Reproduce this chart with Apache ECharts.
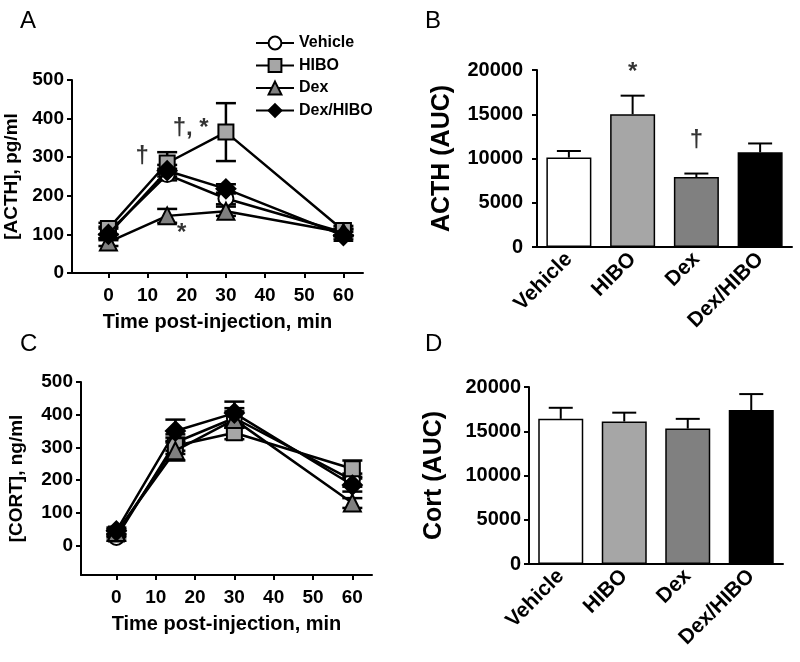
<!DOCTYPE html>
<html>
<head>
<meta charset="utf-8">
<script src="https://cdn.jsdelivr.net/npm/echarts@6/dist/echarts.min.js"></script>
<style>
  html, body { margin: 0; padding: 0; background: #fff; }
  #chart { width: 800px; height: 662px; }
</style>
</head>
<body>
<div id="chart"></div>
<script>
// ---------- data ----------
const timePoints = [0, 15, 30, 60];
const timeTicks = [0, 10, 20, 30, 40, 50, 60];
const concTicks = [0, 100, 200, 300, 400, 500];
const groups = ['Vehicle', 'HIBO', 'Dex', 'Dex/HIBO'];

// Panel A: ACTH (pg/ml)
const acthVehicle = [105, 255, 193, 105];
const acthVehicleErr = [15, 15, 15, 10];
const acthHIBO = [115, 285, 365, 110];
const acthHIBOErr = [15, 28, 75, 12];
const acthDex = [80, 148, 160, 105];
const acthDexErr = [10, 18, 12, 8];
const acthDexHIBO = [100, 265, 218, 97];
const acthDexHIBOErr = [15, 15, 12, 10];

// Panel B: ACTH AUC
const acthAUC = [10100, 15000, 7900, 10700];
const acthAUCErr = [750, 2100, 400, 1000];

// Panel C: CORT (ng/ml)
const cortVehicle = [25, 315, 390, 200];
const cortVehicleErr = [10, 25, 30, 20];
const cortHIBO = [35, 305, 345, 235];
const cortHIBOErr = [10, 25, 20, 25];
const cortDex = [40, 290, 385, 130];
const cortDexErr = [10, 30, 25, 15];
const cortDexHIBO = [45, 350, 405, 185];
const cortDexHIBOErr = [10, 35, 35, 20];

// Panel D: Cort AUC
const cortAUC = [16400, 16100, 15300, 17400];
const cortAUCErr = [1250, 1000, 1100, 1800];

// Significance marks
const marksA = [[8.6, 303, '†'], [21, 375, '†, *'], [18.7, 103, '*']];
const marksB = [[1, 19700, '*'], [2, 12080, '†']];

// ---------- styles ----------
const FONT = 'Liberation Sans';
const groupFill = ['#ffffff', '#a6a6a6', '#808080', '#000000'];
const groupSymbol = ['circle', 'rect', 'triangle', 'diamond'];
const groupSymbolSize = [15, 15, 17, 19];

const chart = echarts.init(document.getElementById('chart'), null, { renderer: 'canvas' });

function pairs(xs, ys) { return xs.map((x, i) => [x, ys[i]]); }
function errData(xs, ys, es) { return xs.map((x, i) => [x, ys[i] - es[i], ys[i] + es[i]]); }
function barErrData(ys, es) { return ys.map((y, i) => [i, y, y + es[i]]); }

function errRender(capW) {
  return function (params, api) {
    const x = api.value(0), lo = api.value(1), hi = api.value(2);
    const pH = api.coord([x, hi]);
    const pL = api.coord([x, lo]);
    const st = { stroke: '#000', lineWidth: 2.5 };
    return {
      type: 'group',
      children: [
        { type: 'line', shape: { x1: pH[0], y1: pH[1], x2: pL[0], y2: pL[1] }, style: st },
        { type: 'line', shape: { x1: pH[0] - capW / 2, y1: pH[1], x2: pH[0] + capW / 2, y2: pH[1] }, style: st },
        { type: 'line', shape: { x1: pL[0] - capW / 2, y1: pL[1], x2: pL[0] + capW / 2, y2: pL[1] }, style: st }
      ]
    };
  };
}
function barErrRender(capW) {
  return function (params, api) {
    const x = api.value(0), lo = api.value(1), hi = api.value(2);
    const pH = api.coord([x, hi]);
    const pL = api.coord([x, lo]);
    const st = { stroke: '#000', lineWidth: 2 };
    return {
      type: 'group',
      children: [
        { type: 'line', shape: { x1: pH[0], y1: pH[1], x2: pL[0], y2: pL[1] }, style: st },
        { type: 'line', shape: { x1: pH[0] - capW / 2, y1: pH[1], x2: pH[0] + capW / 2, y2: pH[1] }, style: st }
      ]
    };
  };
}

const axisLine = { show: true, onZero: false, lineStyle: { color: '#000', width: 2 } };
const axisTick = { show: true, length: 5, lineStyle: { color: '#000', width: 2 } };
const tickFont = { color: '#000', fontFamily: FONT, fontWeight: 'bold', fontSize: 19 };
const nameFont = { color: '#000', fontFamily: FONT, fontWeight: 'bold', fontSize: 19 };
const plain = v => String(v);

function timeXAxis(gridIndex, min) {
  return {
    gridIndex, type: 'value', min: min, max: 65,
    axisLine, splitLine: { show: false },
    axisTick: Object.assign({}, axisTick, { customValues: timeTicks }),
    axisLabel: Object.assign({}, tickFont, { customValues: timeTicks, margin: 13, formatter: plain }),
    name: 'Time post-injection, min', nameLocation: 'middle', nameGap: 39,
    nameTextStyle: Object.assign({}, nameFont, { fontSize: 20 })
  };
}

const lineSeries = [];
function addLinePanel(xi, yi, means, errs, capW) {
  means.forEach((m, g) => {
    lineSeries.push({
      type: 'custom', xAxisIndex: xi, yAxisIndex: yi, z: 1,
      renderItem: errRender(capW), data: errData(timePoints, m, errs[g]),
      silent: true, tooltip: { show: false }
    });
  });
  means.forEach((m, g) => {
    lineSeries.push({
      type: 'line', name: groups[g], xAxisIndex: xi, yAxisIndex: yi, z: 3 + g,
      data: pairs(timePoints, m),
      symbol: groupSymbol[g], symbolSize: groupSymbolSize[g], showAllSymbol: true,
      lineStyle: { color: '#000', width: 2.5 },
      itemStyle: { color: groupFill[g], borderColor: '#000', borderWidth: 2 },
      emphasis: { disabled: true }
    });
  });
}
addLinePanel(0, 0, [acthVehicle, acthHIBO, acthDex, acthDexHIBO],
  [acthVehicleErr, acthHIBOErr, acthDexErr, acthDexHIBOErr], 20);
addLinePanel(2, 2, [cortVehicle, cortHIBO, cortDex, cortDexHIBO],
  [cortVehicleErr, cortHIBOErr, cortDexErr, cortDexHIBOErr], 20);

const barSeries = [];
function addBarPanel(xi, yi, vals, errs) {
  barSeries.push({
    type: 'custom', xAxisIndex: xi, yAxisIndex: yi, z: 1,
    renderItem: barErrRender(24), data: barErrData(vals, errs), silent: true
  });
  barSeries.push({
    type: 'bar', xAxisIndex: xi, yAxisIndex: yi, z: 2, barWidth: 45,
    data: vals.map((v, i) => ({ value: v, itemStyle: { color: groupFill[i] } })),
    itemStyle: { borderColor: '#000', borderWidth: 1.5 },
    emphasis: { disabled: true }
  });
}
addBarPanel(1, 1, acthAUC, acthAUCErr);
addBarPanel(3, 3, cortAUC, cortAUCErr);

const markFont = { color: '#000', fontFamily: FONT, fontSize: 24, fontWeight: 'bold' };
const markSeries = [
  {
    type: 'scatter', xAxisIndex: 0, yAxisIndex: 0, symbolSize: 0, z: 10,
    data: marksA.map(m => ({ value: [m[0], m[1]], label: { formatter: m[2] } })),
    label: Object.assign({ show: true, position: 'inside' }, markFont)
  },
  {
    type: 'scatter', xAxisIndex: 1, yAxisIndex: 1, symbolSize: 0, z: 10,
    data: marksB.map(m => ({ value: [m[0], m[1]], label: { formatter: m[2] } })),
    label: Object.assign({ show: true, position: 'inside' }, markFont)
  }
];

function catXAxis(gridIndex) {
  return {
    gridIndex, type: 'category', data: groups,
    axisLine, axisTick: { show: false },
    axisLabel: Object.assign({}, tickFont, { rotate: 45, margin: 9, fontSize: 21, interval: 0 })
  };
}
function aucYAxis(gridIndex, name, margin) {
  return {
    gridIndex, type: 'value', min: 0, max: 20000, interval: 5000,
    axisLine, axisTick, splitLine: { show: false },
    axisLabel: Object.assign({}, tickFont, { fontSize: 20, margin: margin, formatter: plain }),
    name: name, nameLocation: 'middle', nameGap: 82,
    nameTextStyle: Object.assign({}, nameFont, { fontSize: 25 })
  };
}

const letter = (t, x, y) => ({
  type: 'text', left: x, top: y,
  style: { text: t, fontFamily: FONT, fontSize: 24, fill: '#000' }
});

chart.setOption({
  animation: false,
  backgroundColor: '#fff',
  grid: [
    { left: 72, top: 80, width: 291, height: 193 },
    { left: 537, top: 70, width: 255, height: 177 },
    { left: 81, top: 382, width: 291, height: 193 },
    { left: 529, top: 387, width: 254, height: 177 }
  ],
  xAxis: [timeXAxis(0, -9.3), catXAxis(1), timeXAxis(2, -9), catXAxis(3)],
  yAxis: [
    {
      gridIndex: 0, type: 'value', min: 0, max: 500, interval: 100,
      axisLine, axisTick, splitLine: { show: false },
      axisLabel: Object.assign({}, tickFont, { margin: 8, formatter: plain }),
      name: '[ACTH], pg/ml', nameLocation: 'middle', nameGap: 51, nameTextStyle: nameFont
    },
    aucYAxis(1, 'ACTH (AUC)', 14),
    {
      gridIndex: 2, type: 'value', min: -90, max: 500,
      axisLine, splitLine: { show: false },
      axisTick: Object.assign({}, axisTick, { customValues: concTicks }),
      axisLabel: Object.assign({}, tickFont, { margin: 8, customValues: concTicks, formatter: plain }),
      name: '[CORT], ng/ml', nameLocation: 'middle', nameGap: 55, nameTextStyle: nameFont
    },
    aucYAxis(3, 'Cort (AUC)', 8)
  ],
  legend: {
    data: groups, orient: 'vertical', left: 250, top: 30, itemGap: 6.5,
    itemWidth: 38, itemHeight: 16,
    textStyle: { color: '#000', fontFamily: FONT, fontWeight: 'bold', fontSize: 16 },
    selectedMode: false
  },
  graphic: [letter('A', 20, 9), letter('B', 425, 9), letter('C', 20, 332), letter('D', 425, 332)],
  series: lineSeries.concat(barSeries, markSeries)
});
</script>
</body>
</html>
